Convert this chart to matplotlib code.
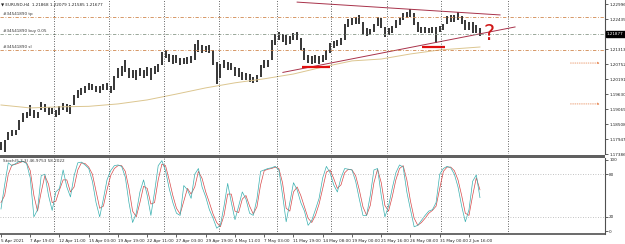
import matplotlib
matplotlib.use("Agg")
import matplotlib.pyplot as plt
from matplotlib.patches import Rectangle
import matplotlib.transforms as mtransforms
import numpy as np

# === data (one bar = 8 hours) ===
highs = [1.1784, 1.1791, 1.1821, 1.1829, 1.1829, 1.1866, 1.1892, 1.1896, 1.1922, 1.1904,
         1.1896, 1.1933, 1.1926, 1.1915, 1.1911, 1.1904, 1.1918, 1.1930, 1.1926, 1.1922,
         1.1960, 1.1978, 1.1986, 1.1993, 1.2005, 1.2001, 1.1993, 1.1993, 1.2001, 1.2005,
         1.1993, 1.2031, 1.2061, 1.2068, 1.2091, 1.2061, 1.2053, 1.2053, 1.2061, 1.2053,
         1.2064, 1.2061, 1.2068, 1.2076, 1.2120, 1.2128, 1.2113, 1.2109, 1.2109, 1.2098,
         1.2098, 1.2102, 1.2106, 1.2150, 1.2165, 1.2147, 1.2143, 1.2147, 1.2128, 1.2083,
         1.2076, 1.2091, 1.2083, 1.2079, 1.2064, 1.2061, 1.2046, 1.2042, 1.2038, 1.2027,
         1.2035, 1.2072, 1.2091, 1.2091, 1.2165, 1.2188, 1.2195, 1.2188, 1.2184, 1.2180,
         1.2191, 1.2195, 1.2173, 1.2135, 1.2109, 1.2106, 1.2109, 1.2106, 1.2109, 1.2128,
         1.2154, 1.2162, 1.2165, 1.2173, 1.2225, 1.2244, 1.2248, 1.2251, 1.2259, 1.2233,
         1.2210, 1.2206, 1.2225, 1.2251, 1.2248, 1.2214, 1.2210, 1.2218, 1.2240, 1.2248,
         1.2266, 1.2270, 1.2281, 1.2266, 1.2233, 1.2214, 1.2214, 1.2210, 1.2214, 1.2214,
         1.2218, 1.2225, 1.2255, 1.2259, 1.2259, 1.2270, 1.2255, 1.2240, 1.2233, 1.2233,
         1.2221, 1.2210]
lows = [1.1754, 1.1746, 1.1791, 1.1806, 1.1810, 1.1829, 1.1859, 1.1874, 1.1881, 1.1874,
        1.1874, 1.1904, 1.1896, 1.1885, 1.1889, 1.1877, 1.1885, 1.1904, 1.1896, 1.1889,
        1.1922, 1.1948, 1.1960, 1.1967, 1.1978, 1.1978, 1.1971, 1.1967, 1.1978, 1.1978,
        1.1967, 1.1978, 1.2023, 1.2031, 1.2046, 1.2023, 1.2023, 1.2016, 1.2031, 1.2023,
        1.2031, 1.2016, 1.2038, 1.2046, 1.2072, 1.2098, 1.2083, 1.2076, 1.2079, 1.2072,
        1.2076, 1.2076, 1.2079, 1.2091, 1.2120, 1.2117, 1.2120, 1.2117, 1.2072, 1.2001,
        1.2023, 1.2061, 1.2053, 1.2053, 1.2031, 1.2027, 1.2016, 1.2016, 1.2008, 1.2005,
        1.2008, 1.2027, 1.2061, 1.2064, 1.2091, 1.2147, 1.2165, 1.2158, 1.2147, 1.2150,
        1.2165, 1.2165, 1.2128, 1.2091, 1.2079, 1.2076, 1.2079, 1.2076, 1.2083, 1.2091,
        1.2117, 1.2135, 1.2143, 1.2147, 1.2165, 1.2214, 1.2221, 1.2225, 1.2225, 1.2184,
        1.2180, 1.2184, 1.2195, 1.2218, 1.2210, 1.2177, 1.2184, 1.2191, 1.2210, 1.2221,
        1.2240, 1.2248, 1.2251, 1.2221, 1.2195, 1.2191, 1.2191, 1.2191, 1.2191, 1.2154,
        1.2195, 1.2203, 1.2225, 1.2233, 1.2233, 1.2240, 1.2225, 1.2203, 1.2203, 1.2191,
        1.2191, 1.2180]

ma_idx = [0, 8, 16, 24, 32, 40, 48, 56, 64, 72, 80, 88, 96, 104, 112, 120, 131]
ma_val = [1.1922, 1.1911, 1.1915, 1.1917, 1.1926, 1.1941, 1.1963, 1.1986, 1.2005,
          1.2020, 1.2038, 1.2064, 1.2087, 1.2094, 1.2113, 1.2128, 1.2139]

stoch_main = [31, 65, 96, 92, 95, 98, 98, 95, 75, 20,
              30, 78, 80, 50, 29, 55, 60, 86, 62, 48,
              78, 96, 97, 93, 88, 70, 40, 20, 45, 72,
              85, 92, 93, 91, 76, 40, 12, 25, 55, 72,
              50, 22, 55, 92, 99, 85, 60, 40, 25, 22,
              64, 58, 46, 80, 88, 62, 48, 30, 18, 4,
              8, 35, 67, 40, 16, 35, 55, 45, 25, 22,
              45, 84, 86, 88, 89, 91, 86, 51, 13, 40,
              68, 58, 40, 28, 8, 15, 30, 46, 75, 91,
              82, 65, 55, 75, 88, 87, 86, 70, 45, 22,
              22, 50, 86, 88, 50, 20, 35, 60, 82, 93,
              90, 55, 30, 6, 8, 15, 22, 28, 30, 40,
              80, 88, 91, 89, 80, 62, 35, 13, 30, 70,
              79, 47]
stoch_signal = [40, 50, 80, 93, 94, 96, 98, 96, 85, 50,
                28, 55, 78, 66, 40, 42, 58, 72, 72, 55,
                62, 86, 96, 95, 90, 80, 56, 32, 35, 58,
                78, 88, 92, 92, 84, 60, 28, 20, 40, 63,
                60, 38, 40, 72, 94, 92, 72, 50, 32, 24,
                42, 60, 52, 62, 84, 74, 55, 40, 24, 12,
                6, 22, 52, 52, 28, 26, 45, 50, 35, 24,
                34, 65, 85, 87, 88, 90, 88, 68, 32, 28,
                55, 62, 50, 34, 18, 12, 22, 38, 60, 83,
                86, 74, 60, 65, 82, 87, 86, 78, 58, 34,
                22, 36, 68, 87, 68, 36, 28, 48, 72, 88,
                92, 72, 42, 18, 8, 12, 18, 25, 29, 35,
                60, 84, 90, 90, 85, 72, 50, 25, 22, 50,
                75, 58]

time_labels = ["5 Apr 2021", "7 Apr 19:00", "12 Apr 11:00", "15 Apr 03:00", "19 Apr 19:00",
               "22 Apr 11:00", "27 Apr 03:00", "29 Apr 19:00", "4 May 11:00", "7 May 03:00",
               "11 May 19:00", "14 May 08:00", "19 May 00:00", "21 May 16:00", "26 May 08:00",
               "31 May 00:00", "2 Jun 16:00"]
price_ticks = [1.22996, 1.22435, 1.21313, 1.20752, 1.20191, 1.19630,
               1.19069, 1.18508, 1.17947, 1.17386]
current_price = 1.21877
order_levels = [1.2251, 1.21877, 1.2128]
order_names = ["#34541890 tp", "#34541890 buy 0.05", "#34541890 sl"]
alert_levels = [1.2079, 1.1926]

trend_upper = ([81.0, 136.5], [1.2307, 1.2259])
trend_lower = ([77.1, 140.6], [1.2044, 1.2214])
support_marks = [(82.3, 90.0, 1.2064), (115.2, 121.5, 1.2139)]

header = "\u25bc EURUSD,H4  1.21868 1.22079 1.21585 1.21677"
stoch_title = "Stoch(5,3,3) 46.9753 58.2022"

# === layout (pixels) ===
W, H = 625, 244
def frac(left, top, w, h):
    return [left / W, 1 - (top + h) / H, w / W, h / H]

plt.rcParams['font.family'] = ['DejaVu Sans']
fs = 3.0
axis_col = '#505050'

fig = plt.figure(figsize=(W / 100, H / 100), dpi=100)
ax = fig.add_axes(frac(0, 0, 605, 154))
ax2 = fig.add_axes(frac(0, 158, 605, 76))

xlim = (-0.27, 165.2)
idx = np.arange(len(highs))

# --- price panel ---
ax.vlines(idx, lows, highs, color='black', lw=1.1)
ax.plot(ma_idx, ma_val, color='#dcc690', lw=0.7)
ax.plot(*trend_upper, color='#a8324a', lw=0.7)
ax.plot(*trend_lower, color='#a8324a', lw=0.7)
for x0, x1, p in support_marks:
    ax.plot([x0, x1], [p, p], color='#e01010', lw=1.6, solid_capstyle='butt')

line_cols = ['#d08850', '#8a9a8a', '#d08850']
for lvl, name, c in zip(order_levels, order_names, line_cols):
    ax.axhline(lvl, color=c, lw=0.6, ls=(0, (4, 2, 1, 2)))
    ax.text(0.5, lvl + 0.0003, name, fontsize=fs, color='#333333', va='bottom', ha='left')

for lvl in alert_levels:
    ax.annotate('', xy=(164.6, lvl), xytext=(155.0, lvl),
                arrowprops=dict(arrowstyle='-|>', ls=':', color='#e89060',
                                lw=0.6, mutation_scale=3))

ax.text(133.5, 1.2188, '?', color='#d01818', fontsize=15, ha='center', va='center')

grid_x = [14.5, 29.5, 44.6, 59.6, 75.5, 90.3, 105.6, 120.4, 138.7]
for a in (ax, ax2):
    for gx in grid_x:
        a.axvline(gx, color='#303030', lw=0.6, ls=(0, (1, 2)))
    a.set_xlim(*xlim)
    a.set_facecolor('white')
    for s in ('top', 'left'):
        a.spines[s].set_visible(False)
    a.spines['right'].set_color(axis_col)
    a.spines['right'].set_linewidth(0.8)

ax.set_ylim(1.17389, 1.23149)
ax.spines['bottom'].set_visible(False)
ax.set_xticks([])
ax.yaxis.tick_right()
ax.set_yticks(price_ticks)
ax.set_yticklabels([f"{v:.5f}" for v in price_ticks])
ax.tick_params(axis='y', labelsize=fs, length=2, width=0.5, pad=1, colors='#222222')

trans = mtransforms.blended_transform_factory(ax.transAxes, ax.transData)
ax.text(1.003, current_price, f"{current_price:.5f}", transform=trans, fontsize=fs,
        color='white', va='center', ha='left',
        bbox=dict(boxstyle='square,pad=0.3', fc='black', ec='black'), clip_on=False)

fig.text(1 / W, 1 - 4 / H, header, fontsize=fs, va='center', ha='left', color='#222222')

# --- stochastic panel ---
ax2.plot(idx, stoch_signal, color='#d84848', lw=0.5)
ax2.plot(idx, stoch_main, color='#3ab0b0', lw=0.5)
for lvl in (80, 20):
    ax2.axhline(lvl, color='#b0b0b0', lw=0.6, ls=(0, (1, 2)))
ax2.set_ylim(-4.2, 102.8)
ax2.yaxis.tick_right()
ax2.set_yticks([0, 20, 80, 100])
ax2.set_yticklabels(['0', '20', '80', '100'])
ax2.tick_params(axis='y', labelsize=fs, length=2, width=0.5, pad=1, colors='#222222')
ax2.spines['bottom'].set_color(axis_col)
ax2.spines['bottom'].set_linewidth(1.2)
tick_idx = np.arange(0, 8 * len(time_labels), 8)
ax2.set_xticks(tick_idx)
ax2.set_xticklabels(time_labels, ha='left')
ax2.tick_params(axis='x', labelsize=fs, length=2, width=0.5, pad=1.5, colors='#222222')
ax2.text(0.5, 101, stoch_title, fontsize=fs, va='top', ha='left', color='#333333')

# separator band between panels
fig.patches.append(Rectangle((0, 1 - 158 / H), 605 / W, 3.5 / H, transform=fig.transFigure,
                             fc='#606060', ec='none'))

fig.savefig("out.png", dpi=100)
